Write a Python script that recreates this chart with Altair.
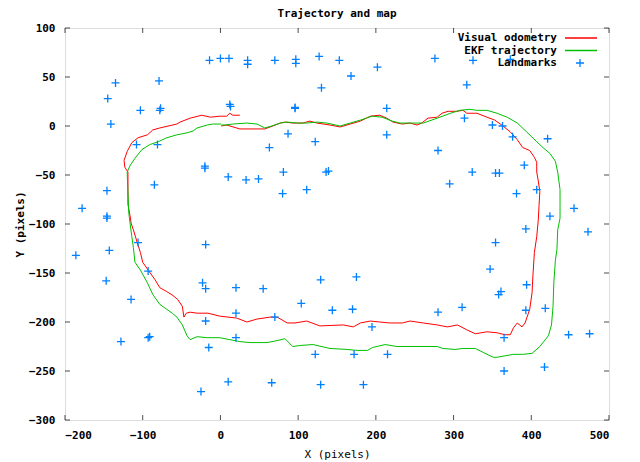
import altair as alt
import pandas as pd

FONT = "DejaVu Sans Mono"

x_ticks = [-200, -100, 0, 100, 200, 300, 400, 500]
y_ticks = [-300, -250, -200, -150, -100, -50, 0, 50, 100]

series_names = ["Visual odometry", "EKF trajectory"]
series_colors = ["#ff0000", "#00c000"]
landmark_name = "Landmarks"
landmark_color = "#0080ff"
plus_path = "M-1,0L1,0M0,-1L0,1"

vo_x = [1, 8, 25, 42, 57, 64, 77, 83, 93, 106, 115, 124, 141, 154, 167, 180, 193, 205, 214, 222,
        234, 244, 253, 259, 267, 279, 285, 293, 304, 312, 317, 330, 343, 353, 362, 373, 382, 389, 398, 404,
        407, 407, 409, 411, 410, 409, 407, 404, 402, 401, 398, 392, 388, 382, 377, 373, 366, 356, 343, 328,
        317, 305, 292, 279, 261, 244, 234, 218, 205, 193, 180, 171, 158, 128, 111, 96, 86, 73, 64, 47,
        34, 21, -1, -16, -30, -39, -44, -47, -49, -55, -61, -69, -78, -84, -93, -100, -103, -107, -112, -115,
        -116, -119, -119, -119, -119, -123, -124, -120, -114, -106, -94, -87, -78, -56, -52, -39, -24, -13, -1, 8,
        12, 16, 25]
vo_y = [0, 1, -3, -3, -3, -1, 3, 4, 3, 3, 5, 3, 1, -1, 2, 5, 10, 11, 8, 4,
        2, 3, 1, 3, 8, 9, 13, 15, 15, 16, 13, 13, 9, 6, 1, -6, -14, -22, -25, -32,
        -37, -47, -56, -67, -81, -96, -113, -129, -154, -170, -187, -201, -205, -201, -206, -213, -213, -211, -210, -212,
        -208, -203, -205, -203, -201, -199, -201, -201, -200, -199, -201, -205, -203, -204, -199, -201, -201, -195, -195, -197,
        -200, -196, -194, -191, -191, -190, -191, -195, -184, -177, -173, -169, -165, -157, -147, -139, -129, -119, -106, -99,
        -93, -80, -75, -57, -47, -42, -35, -26, -17, -12, -9, -4, -2, 2, 4, 8, 11, 9, 10, 10,
        13, 11, 11]

ekf_x = [1, 6, 16, 34, 47, 57, 66, 77, 86, 99, 111, 124, 137, 154, 167, 180, 195, 208, 221, 231,
         261, 279, 296, 308, 321, 330, 343, 356, 369, 382, 394, 407, 415, 424, 431, 434, 437, 437, 437, 434,
         433, 431, 429, 428, 426, 422, 415, 411, 401, 389, 377, 356, 351, 338, 328, 312, 302, 286, 279, 244,
         227, 212, 196, 189, 176, 163, 141, 119, 102, 93, 83, 73, 60, 38, 25, 12, -1, -17, -30, -39,
         -43, -49, -56, -62, -71, -78, -87, -94, -103, -110, -112, -114, -116, -118, -119, -120, -116, -110, -101, -91,
         -80, -69, -56, -43, -35, -30, -17, -10, 1]
ekf_y = [1, 1, 2, 3, 2, -2, 0, 3, 4, 3, 3, 4, 3, 0, 3, 6, 10, 9, 5, 3,
         3, 8, 13, 16, 17, 16, 16, 13, 9, 3, -6, -16, -22, -28, -36, -47, -65, -81, -94, -106,
         -126, -137, -160, -184, -203, -214, -221, -225, -232, -233, -233, -236, -236, -231, -227, -227, -228, -227, -225, -225,
         -225, -223, -226, -229, -229, -228, -227, -223, -224, -225, -217, -219, -221, -221, -220, -218, -216, -216, -215, -218,
         -214, -203, -195, -191, -186, -182, -172, -160, -147, -139, -124, -113, -101, -88, -67, -47, -40, -33, -24, -19,
         -16, -12, -9, -7, -5, -2, 1, 2, 2]

lm_x = [-14, 0, 11, 35, 35, 70, 97, 97, 127, 153, -135, -79, 130, -145, -103, -78, -77, 12, 13, 96,
        96, -141, 87, 122, -108, -81, 63, -20, -20, 81, 136, 139, 10, 33, 49, 80, 111, -146, -85, -178,
        -146, -146, 202, 168, 276, 325, 373, 317, 214, 314, 214, 350, 363, 376, 421, 280, 391, 324, 354, 359,
        295, 381, 407, 455, 424, -106, -19, -186, -143, -93, -147, -23, -19, 20, 55, 129, -115, 104, 144, 20,
        -19, 70, -128, -93, -91, 20, -15, 122, 10, 66, 129, -25, 393, 473, 354, 347, 175, 361, 358, 394,
        170, 280, 311, 393, 418, 195, 365, 448, 475, 172, 215, 417, 365, 184]
lm_y = [67, 69, 69, 67, 63, 67, 68, 64, 71, 67, 44, 46, 39, 28, 16, 16, 18, 22, 20, 19,
        18, 2, -8, -16, -19, -19, -22, -41, -43, -47, -47, -46, -52, -55, -54, -69, -65, -66, -60, -84,
        -94, -92, 60, 51, 69, 67, 68, 42, 18, 8, -9, 1, 0, -11, -13, -25, -40, -47, -48, -48,
        -59, -69, -65, -84, -92, -119, -121, -132, -127, -148, -158, -160, -166, -165, -166, -157, -177, -181, -188, -191,
        -199, -195, -220, -216, -215, -216, -226, -233, -261, -262, -264, -271, -105, -108, -119, -146, -154, -169, -172, -162,
        -187, -190, -185, -188, -186, -205, -216, -213, -212, -233, -233, -246, -250, -264]

vo = pd.DataFrame({"x": vo_x, "y": vo_y, "i": list(range(len(vo_x))), "s": series_names[0]})
ekf = pd.DataFrame({"x": ekf_x, "y": ekf_y, "i": list(range(len(ekf_x))), "s": series_names[1]})
lm = pd.DataFrame({"x": lm_x, "y": lm_y, "s": landmark_name})
xt = pd.DataFrame({"v": x_ticks})
yt = pd.DataFrame({"v": y_ticks})

xs = alt.Scale(domain=[x_ticks[0], x_ticks[-1]], nice=False, zero=False)
ys = alt.Scale(domain=[y_ticks[0], y_ticks[-1]], nice=False, zero=False)

xaxis = alt.Axis(values=x_ticks, title="X (pixels)", ticks=False, domain=False, grid=False,
                 labelPadding=9, labelFont=FONT, labelFontSize=11, labelFontWeight="bold",
                 labelColor="black", titleFont=FONT, titleFontSize=11, titleFontWeight="normal",
                 titleColor="black", titleX=272, titleY=34, titleBaseline="middle", titleAlign="center")
yaxis = alt.Axis(values=y_ticks, title="Y (pixels)", ticks=False, domain=False, grid=False,
                 labelPadding=10, labelFont=FONT, labelFontSize=11, labelFontWeight="bold",
                 labelColor="black", titleFont=FONT, titleFontSize=11, titleFontWeight="bold",
                 titleColor="black", titleX=-45, titleY=196, titleBaseline="middle", titleAlign="center",
                 titleAngle=270)

color_enc = alt.Color("s:N", scale=alt.Scale(domain=series_names, range=series_colors),
                      legend=alt.Legend(title=None, orient="none", legendX=510, legendY=4,
                                        symbolType="M-3.2,0L3.2,0", symbolSize=100, symbolStrokeWidth=1.5,
                                        labelAlign="right", labelOffset={"expr": "-30"}, labelFont=FONT,
                                        labelFontSize=11, labelFontWeight="bold", labelColor="black",
                                        rowPadding=1.5, padding=0))

shape_enc = alt.Shape("s:N", scale=alt.Scale(domain=[landmark_name], range=[plus_path]),
                      legend=alt.Legend(title=None, orient="none", legendX=509.5, legendY=29.5,
                                        symbolSize=64, symbolStrokeWidth=1.3,
                                        symbolStrokeColor=landmark_color, symbolFillColor="transparent",
                                        labelAlign="right", labelOffset={"expr": "-28.5"}, labelFont=FONT,
                                        labelFontSize=11, labelFontWeight="bold", labelColor="black",
                                        padding=0))


def X(field):
    return alt.X(field, scale=xs, axis=xaxis)


def Y(field):
    return alt.Y(field, scale=ys, axis=yaxis)


vo_line = alt.Chart(vo).mark_line(strokeWidth=1).encode(
    x=X("x:Q"), y=Y("y:Q"), order="i:Q", color=color_enc)
ekf_line = alt.Chart(ekf).mark_line(strokeWidth=1).encode(
    x=X("x:Q"), y=Y("y:Q"), order="i:Q", color=color_enc)
points = alt.Chart(lm).mark_point(filled=False, size=64, strokeWidth=1.3, color=landmark_color,
                                  opacity=1).encode(
    x=X("x:Q"), y=Y("y:Q"), shape=shape_enc)

tick_b = alt.Chart(xt).mark_tick(orient="vertical", size=5, thickness=1, color="black", yOffset=-2.5).encode(
    x=X("v:Q"), y=alt.YDatum(y_ticks[0], type="quantitative", scale=ys, axis=yaxis))
tick_t = alt.Chart(xt).mark_tick(orient="vertical", size=5, thickness=1, color="black", yOffset=2.5).encode(
    x=X("v:Q"), y=alt.YDatum(y_ticks[-1], type="quantitative", scale=ys, axis=yaxis))
tick_l = alt.Chart(yt).mark_tick(orient="horizontal", size=5, thickness=1, color="black", xOffset=2.5).encode(
    y=Y("v:Q"), x=alt.XDatum(x_ticks[0], type="quantitative", scale=xs, axis=xaxis))
tick_r = alt.Chart(yt).mark_tick(orient="horizontal", size=5, thickness=1, color="black", xOffset=-2.5).encode(
    y=Y("v:Q"), x=alt.XDatum(x_ticks[-1], type="quantitative", scale=xs, axis=xaxis))

chart = alt.layer(vo_line, ekf_line, points, tick_b, tick_t, tick_l, tick_r).properties(
    width=544, height=392,
    title=alt.TitleParams("Trajectory and map", font=FONT, fontSize=11, fontWeight="bold",
                          color="black", offset=3, anchor="middle"),
    autosize=alt.AutoSizeParams(type="none"),
    padding={"left": 57, "top": 20, "right": 16, "bottom": 40},
).configure_view(stroke="black", strokeWidth=1).configure(background="white")

chart.save("out.html", embed_options={"renderer": "svg", "actions": False})
